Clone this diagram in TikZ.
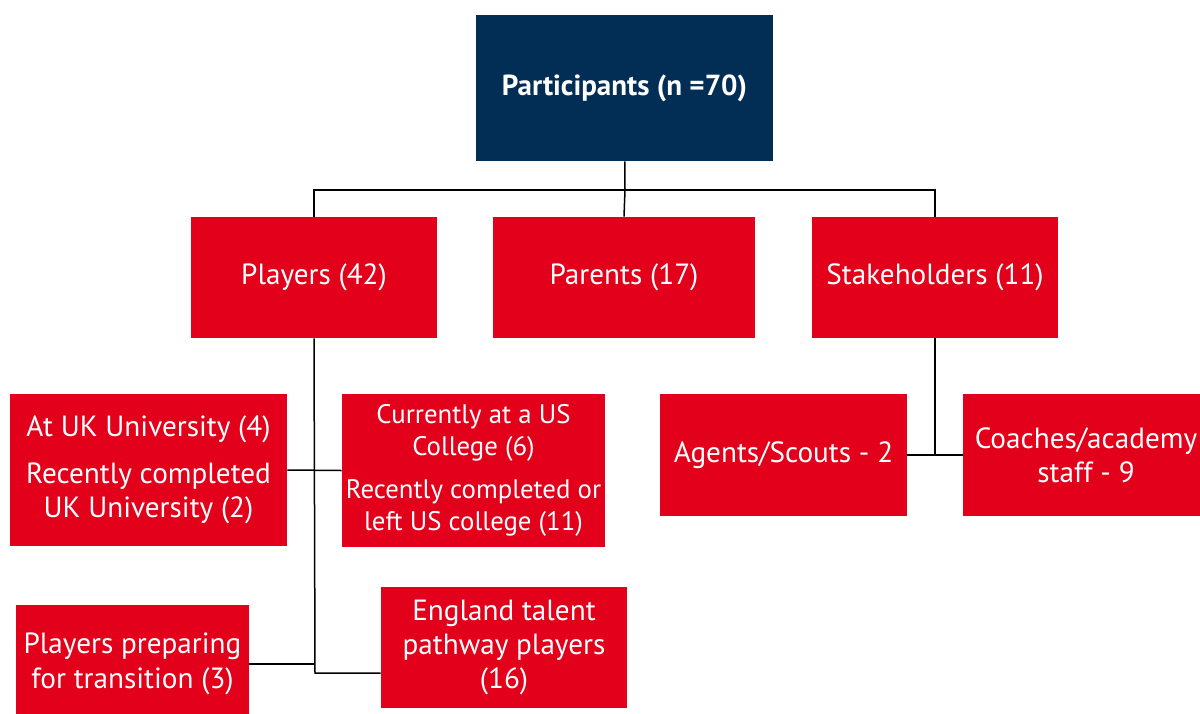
\documentclass[tikz,border=0pt]{standalone}
\usepackage{fontspec}
\setmainfont{PT Sans}
\definecolor{boxred}{HTML}{E2001A}
\definecolor{boxnavy}{HTML}{022E55}
\tikzset{
	redbox/.style={fill=boxred, text=white, align=center, inner sep=0pt,
		minimum width=123pt, minimum height=60.5pt, font=\fontsize{14.6}{17.2}\selectfont},
	topbox/.style={fill=boxnavy, text=white, inner sep=0pt, minimum width=148.5pt,
		minimum height=73pt, font=\bfseries\fontsize{14.5}{17}\selectfont},
	link/.style={draw=black, line width=0.75pt},
}
\begin{document}
\begin{tikzpicture}[x=0.5pt, y=-0.5pt]
	\useasboundingbox (0,0) rectangle (1200,713);
	\clip (0,0) rectangle (1200,713);

	\node[topbox] (top) at (624.5,88) {Participants (n =70)};

	\node[redbox] (players) at (314,277.5) {Players (42)};
	\node[redbox, minimum width=131pt] (parents) at (624,277.5) {Parents (17)};
	\node[redbox] (stake) at (935,277.5) {Stakeholders (11)};

	\node[redbox, minimum width=138.5pt, minimum height=76pt] (uk) at (148.5,470)
		{At UK University (4)\\[6pt]Recently completed\\UK University (2)};
	\node[redbox, minimum width=131.5pt, minimum height=76.5pt,
		font=\fontsize{13.4}{15.8}\selectfont] (us) at (473.5,470.5)
		{Currently at a US\\College (6)\\[6pt]Recently completed or\\left US college (11)};
	\node[redbox, minimum width=116.5pt, minimum height=59pt] (prep) at (132.5,664)
		{Players preparing\\for transition (3)};
	\node[redbox] (england) at (504,647.5) {England talent\\pathway players\\(16)};

	\node[redbox, minimum width=123.5pt, minimum height=61pt] (agents) at (783.5,455) {Agents/Scouts - 2};
	\node[redbox, minimum height=61pt] (coaches) at (1086,455) {Coaches/academy\\staff - 9};

	% top level
	\coordinate (split) at (625,190);
	\draw[link] (top) -- (split);
	\draw[link] (players.north) |- (split) -| (stake.north);
	\draw[link] (split) -- (parents.north);

	% players branch
	\coordinate (pbot) at (315,673);
	\draw[link] (players.south) -- (pbot) -- (pbot -| england.west);
	\draw[link] (uk.east) -- (us.west);
	\draw[link] (prep.east) -- (prep.east -| pbot);

	% stakeholders branch
	\draw[link] (agents.east) -- (coaches.west);
	\draw[link] (stake.south) -- (stake.south |- agents.east);
\end{tikzpicture}
\end{document}
